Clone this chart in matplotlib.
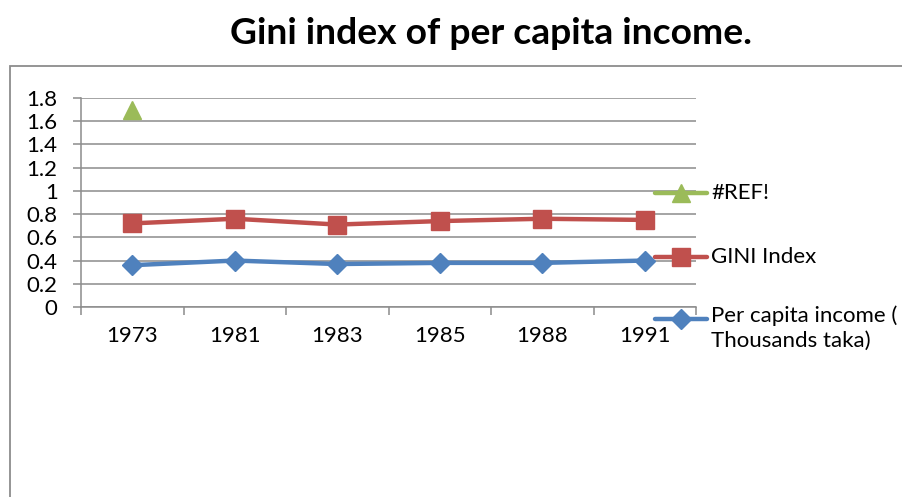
import matplotlib
matplotlib.use("Agg")
import matplotlib.pyplot as plt
from matplotlib.lines import Line2D
from matplotlib.patches import Rectangle
import numpy as np

plt.rcParams['font.family'] = ['Lato', 'DejaVu Sans']

years = ["1973", "1981", "1983", "1985", "1988", "1991"]
per_capita = [0.36, 0.40, 0.37, 0.38, 0.38, 0.40]
gini = [0.72, 0.76, 0.71, 0.74, 0.76, 0.75]
ref_vals = [1.70, None, None, None, None, None]
yticks = [0, 0.2, 0.4, 0.6, 0.8, 1, 1.2, 1.4, 1.6, 1.8]
ytick_labels = ["0", "0.2", "0.4", "0.6", "0.8", "1", "1.2", "1.4", "1.6", "1.8"]
series_labels = ["#REF!", "GINI Index", "Per capita income (\nThousands taka)"]

W, H = 903, 497
fig = plt.figure(figsize=(W / 100, H / 100), dpi=100)
fig.patch.set_facecolor("white")

# chart border
fig.add_artist(Rectangle((10 / W, -0.2), 2.0, (H - 66) / H + 0.2,
                         transform=fig.transFigure, fill=False,
                         edgecolor="#8c8c8c", linewidth=1.3))

ax = fig.add_axes([81 / W, 1 - 307 / H, (696 - 81) / W, (307 - 98) / H])
x = np.arange(len(years)) + 0.5

blue = "#4f81bd"
red = "#c0504d"
green = "#9bbb59"

ax.plot(x, per_capita, color=blue, lw=3.2, marker="D", ms=10, zorder=3)
ax.plot(x, gini, color=red, lw=3.2, marker="s", ms=13, zorder=3)
rx = [xi for xi, v in zip(x, ref_vals) if v is not None]
ry = [v for v in ref_vals if v is not None]
ax.plot(rx, ry, color=green, lw=3.2, marker="^", ms=13, zorder=3,
        linestyle="none")

FS = 16
ax.set_xlim(0, len(years))
ax.set_ylim(0, 1.8)
ax.set_yticks(yticks)
ax.set_yticklabels(ytick_labels, fontsize=FS)
ax.yaxis.grid(True, color="#8c8c8c", lw=1.1)
ax.set_axisbelow(True)
ax.set_xticks(np.arange(len(years) + 1))
ax.set_xticklabels([])
ax.set_xticks(x, minor=True)
ax.set_xticklabels(years, minor=True, fontsize=FS)
ax.tick_params(axis="x", which="major", length=5.8, color="#8c8c8c", width=1.1)
ax.tick_params(axis="x", which="minor", length=0, pad=14)
ax.tick_params(axis="y", length=5.8, color="#8c8c8c", width=1.1, pad=11)
for s in ["top", "right"]:
    ax.spines[s].set_visible(False)
for s in ["left", "bottom"]:
    ax.spines[s].set_color("#8c8c8c")
    ax.spines[s].set_linewidth(1.1)

# title
fig.text(491 / W, 1 - 34 / H, "Gini index of per capita income.",
         ha="center", va="center", fontsize=26.8, fontweight="bold")

# legend (manual, Excel style)
entries = [(green, "^", 13, series_labels[0], 193),
           (red, "s", 13, series_labels[1], 257),
           (blue, "D", 10, series_labels[2], 319)]
for col, mk, ms, lab, yy in entries:
    yf = 1 - yy / H
    fig.add_artist(Line2D([655 / W, 707 / W], [yf, yf], transform=fig.transFigure,
                          color=col, lw=3.2, solid_capstyle="round"))
    fig.add_artist(Line2D([681 / W], [yf], transform=fig.transFigure,
                          color=col, marker=mk, ms=ms, linestyle="none"))
    if "\n" in lab:
        fig.text(711 / W, yf + 14 / H, lab, ha="left", va="top",
                 fontsize=FS, linespacing=1.35)
    else:
        fig.text(711 / W, yf, lab, ha="left", va="center", fontsize=FS)

fig.savefig("out.png", dpi=100)
